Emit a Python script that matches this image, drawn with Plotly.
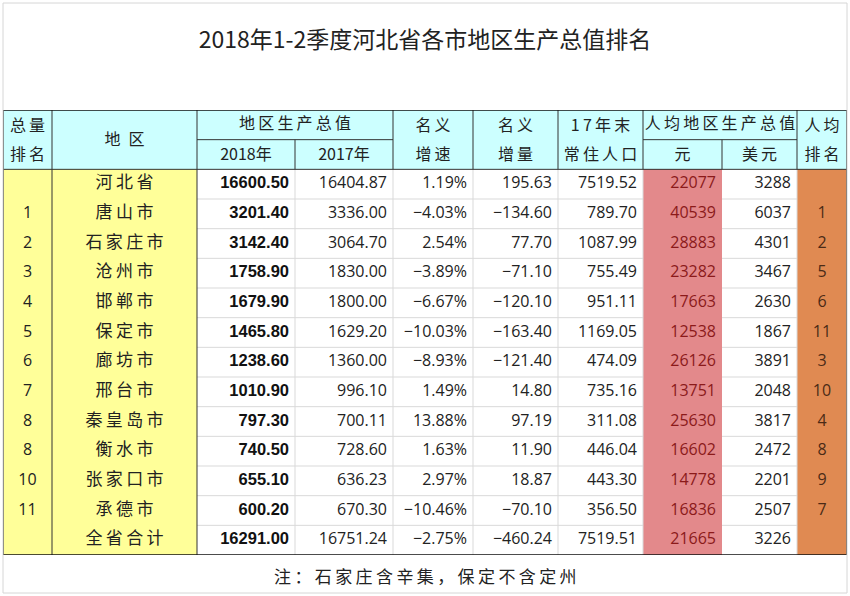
import plotly.graph_objects as go

# data
rank_total = ["", "1", "2", "3", "4", "5", "6", "7", "8", "8", "10", "11", ""]
regions = ["河北省", "唐山市", "石家庄市", "沧州市", "邯郸市", "保定市", "廊坊市",
           "邢台市", "秦皇岛市", "衡水市", "张家口市", "承德市", "全省合计"]
gdp_2018 = [16600.50, 3201.40, 3142.40, 1758.90, 1679.90, 1465.80, 1238.60,
            1010.90, 797.30, 740.50, 655.10, 600.20, 16291.00]
gdp_2017 = [16404.87, 3336.00, 3064.70, 1830.00, 1800.00, 1629.20, 1360.00,
            996.10, 700.11, 728.60, 636.23, 670.30, 16751.24]
growth_pct = [1.19, -4.03, 2.54, -3.89, -6.67, -10.03, -8.93, 1.49, 13.88,
              1.63, 2.97, -10.46, -2.75]
growth_abs = [195.63, -134.60, 77.70, -71.10, -120.10, -163.40, -121.40,
              14.80, 97.19, 11.90, 18.87, -70.10, -460.24]
population = [7519.52, 789.70, 1087.99, 755.49, 951.11, 1169.05, 474.09,
              735.16, 311.08, 446.04, 443.30, 356.50, 7519.51]
per_cap_yuan = [22077, 40539, 28883, 23282, 17663, 12538, 26126, 13751,
                25630, 16602, 14778, 16836, 21665]
per_cap_usd = [3288, 6037, 4301, 3467, 2630, 1867, 3891, 2048, 3817, 2472,
               2201, 2507, 3226]
per_cap_rank = ["", "1", "2", "5", "6", "11", "3", "10", "4", "8", "9", "7", ""]

# header labels (top line / bottom line of the two-row header)
head_top = ["总量", "", "", "", "名义", "名义", "17年末", "", "", "人均"]
head_bottom = ["排名", "", "2018年", "2017年", "增速", "增量", "常住人口", "元", "美元", "排名"]
head_full = ["", "地区", "", "", "", "", "", "", "", ""]
head_groups = [("地区生产总值", 2, 3), ("人均地区生产总值", 7, 8)]
title = "2018年1-2季度河北省各市地区生产总值排名"
note = "注：石家庄含辛集，保定不含定州"

W, H = 850, 596
col_w = [49, 145, 98, 98, 80, 85, 85, 79, 75, 50]
x0, x1 = 3, 847
top, bottom = 110, 555
n = len(regions)

CJK = "Noto Sans CJK SC"
NUM = "Open Sans"
BOLD = "Liberation Sans"
# fill codes: 0 white, 1 yellow, 2 red, 3 orange, 4 header cyan
col_code = [1, 1, 0, 0, 0, 0, 0, 2, 0, 3]
palette = ["#ffffff", "#ffff99", "#e3898b", "#e08a52", "#ccffff"]
GRID = "#d9d9d9"
DARK = "#333333"
INK = "#222222"


def sp(s, gap="\u2009"):
    # spread CJK characters a little, like the sheet does
    return gap.join(s)


def num(v, d=2):
    s = f"{abs(v):.{d}f}"
    return ("−" + s) if v < 0 else s


def py(p):
    return 1 - p / H


def px(p):
    return p / W


edges = [0]
for w in col_w:
    edges.append(edges[-1] + w)
mid = [(edges[i] + edges[i + 1]) / 2 for i in range(len(col_w))]

columns = [
    rank_total,
    [sp(r) for r in regions],
    [f"<b>{num(v)}</b>" for v in gdp_2018],
    [num(v) for v in gdp_2017],
    [num(v) + "%" for v in growth_pct],
    [num(v) for v in growth_abs],
    [num(v) for v in population],
    [str(v) for v in per_cap_yuan],
    [str(v) for v in per_cap_usd],
    per_cap_rank,
]
align = ["c", "c", "r", "r", "r", "r", "r", "r", "r", "c"]
fonts = [(NUM, 16, INK), (CJK, 17, INK), (BOLD, 16.5, "#111"), (NUM, 16, INK),
         (NUM, 16, INK), (NUM, 16, INK), (NUM, 16, INK), (NUM, 16, "#8b1a1a"),
         (NUM, 16, INK), (NUM, 16, "#4b2a16")]

fig = go.Figure()

# cell fills: two header rows (y = -2..0) plus the data rows (y = 0..n)
z = [[4] * len(col_w), [4] * len(col_w)] + [col_code[:] for _ in range(n)]
fig.add_trace(go.Heatmap(
    x=edges, y=list(range(-2, n + 1)), z=z, zmin=0, zmax=4,
    colorscale=[[i / 4, c] for i, c in enumerate(palette)],
    showscale=False, hoverinfo="skip",
))

# cell texts
for c, vals in enumerate(columns):
    fam, size, color = fonts[c]
    right = align[c] == "r"
    fig.add_trace(go.Scatter(
        x=[edges[c + 1] - 6 if right else mid[c]] * n,
        y=[i + 0.5 for i in range(n)],
        text=vals, mode="text",
        textposition="middle left" if right else "middle center",
        textfont=dict(family=fam, size=size, color=color),
        hoverinfo="skip", showlegend=False,
    ))

# header texts
hx, hy, ht = [], [], []
for c in range(len(col_w)):
    if head_top[c]:
        hx.append(mid[c]); hy.append(-1.42); ht.append(sp(head_top[c]))
    if head_bottom[c]:
        lab = head_bottom[c]
        hx.append(mid[c]); hy.append(-0.45); ht.append(lab if "年" in lab else sp(lab))
    if head_full[c]:
        hx.append(mid[c]); hy.append(-0.95); ht.append(sp(head_full[c], "\u2002"))
for label, a, b in head_groups:
    hx.append((edges[a] + edges[b + 1]) / 2); hy.append(-1.5); ht.append(sp(label))
fig.add_trace(go.Scatter(
    x=hx, y=hy, text=ht, mode="text", textposition="middle center",
    textfont=dict(family=CJK, size=16, color=INK),
    hoverinfo="skip", showlegend=False,
))

# rules of the sheet
shapes = []


def rule(xa, xb, ya, yb, color, width=1):
    shapes.append(dict(type="line", xref="x", yref="y", x0=xa, x1=xb, y0=ya, y1=yb,
                       line=dict(color=color, width=width), layer="above"))


# light grid in the white part of the body
for r in range(1, n):
    rule(edges[2], edges[7], r, r, GRID)
    rule(edges[8], edges[9], r, r, GRID)
for e in [3, 4, 5, 6, 7, 9]:
    rule(edges[e], edges[e], 0, n, GRID)
# header rules
for e in range(3, 10):
    split = any(a < e <= b for _, a, b in head_groups)
    rule(edges[e], edges[e], -1 if split else -2, 0, DARK)
for _, a, b in head_groups:
    rule(edges[a], edges[b + 1], -1, -1, DARK)
rule(edges[0], edges[-1], 0, 0, DARK)
for e in [1, 2]:
    rule(edges[e], edges[e], -2, n, DARK)
# outer border of the table
for e in [0, len(col_w)]:
    rule(edges[e], edges[e], -2, n, "#111", 1.5)
rule(edges[0], edges[-1], -2, -2, "#111", 1.5)
rule(edges[0], edges[-1], n, n, "#111", 1.5)

# light frame around the whole sheet
shapes.append(dict(type="rect", xref="paper", yref="paper", x0=px(x0), x1=px(x1),
                   y0=py(593), y1=py(3), line=dict(color="#d6d6d6", width=1)))

fig.update_layout(
    width=W, height=H, margin=dict(l=0, r=0, t=0, b=0),
    paper_bgcolor="white", plot_bgcolor="white", shapes=shapes,
    xaxis=dict(domain=[px(x0), px(x1)], range=[edges[0], edges[-1]], visible=False,
               fixedrange=True),
    yaxis=dict(domain=[py(bottom), py(top)], range=[n, -2], visible=False,
               fixedrange=True),
    title=dict(text=title, x=0.5, xanchor="center", y=py(40), yanchor="middle",
               font=dict(family=CJK, size=23, color=INK)),
    annotations=[dict(text=sp(note), xref="paper", yref="paper", x=0.5, y=py(575),
                      xanchor="center", yanchor="middle", showarrow=False,
                      font=dict(family=CJK, size=17, color=INK))],
    showlegend=False,
)
fig.write_html("out.html", config={"displayModeBar": False},
               post_script="document.body.style.margin='0';")
